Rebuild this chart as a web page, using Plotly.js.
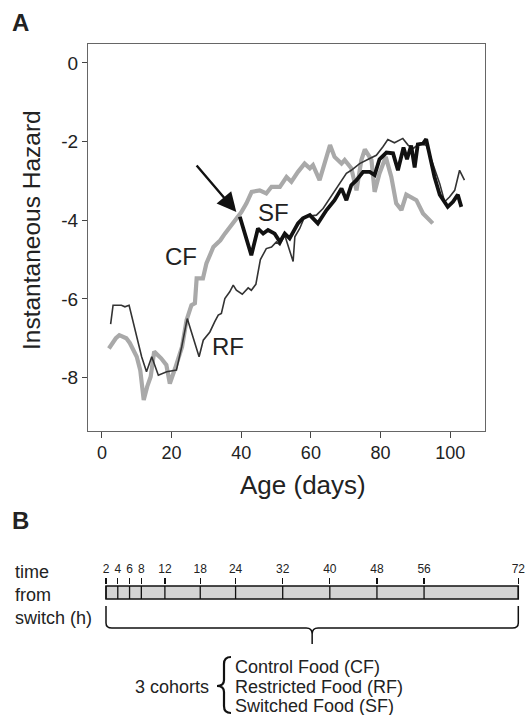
<!DOCTYPE html>
<html><head><meta charset="utf-8">
<script src="https://cdn.plot.ly/plotly-3.0.1.min.js"></script>
<style>html,body{margin:0;padding:0;background:#fff}</style>
</head><body><div id="chart" style="width:528px;height:715px"></div>
<script>
// ---- Panel A data ----
const cfDays = [2,4,5,7,8,10,11,12,13,14,15,17,18.5,19.5,21,23,24.3,25.7,26.7,27.2,29,30,32,34,35.3,37.2,38.6,40,41.5,43,45.3,47.2,48.7,51.1,53,54.4,56.3,58.2,59.7,60.6,62.5,64.5,65.5,66.8,68.8,69.7,71.6,73.1,74.5,75.5,77.4,78.3,79.7,81.5,83.1,84.5,86,87.4,90.3,92.2,95];
const cfVals = [-7.26,-7.0,-6.92,-7.0,-7.12,-7.47,-7.81,-8.57,-8.23,-7.98,-7.34,-7.51,-7.68,-8.15,-7.77,-7.22,-6.54,-6.16,-6.11,-5.48,-5.48,-5.10,-4.68,-4.51,-4.34,-4.12,-3.96,-3.8,-3.57,-3.28,-3.24,-3.32,-3.15,-3.15,-2.9,-3.02,-2.77,-2.56,-2.68,-2.60,-2.98,-2.43,-2.09,-2.39,-2.56,-2.47,-2.68,-3.24,-2.47,-2.2,-2.47,-3.28,-2.81,-2.39,-2.90,-3.57,-3.74,-3.35,-3.49,-3.83,-4.08];
const rfDays = [2.5,3.2,5.6,6.6,7.8,9.5,11.4,12.8,14.3,16.2,18.6,21.4,22.9,24.5,26.2,27.9,29.1,31,32.4,33.4,34.3,35.3,36.7,37.7,38.6,40.3,42,42.9,44.2,45.5,47.2,48.7,50.1,51.1,52.5,53.4,54.9,55.4,56.8,58.2,59.7,61.6,63.5,65.4,67.8,70.2,71.6,74,76.9,78.8,80.7,82.1,84,86.4,87.9,89.3,91.2,93.1,95,97,98.4,99.8,101.3,102.7,104.1];
const rfVals = [-6.64,-6.16,-6.16,-6.2,-6.16,-6.79,-7.47,-7.85,-7.47,-7.94,-7.85,-7.81,-7.22,-6.5,-6.96,-7.47,-7.05,-6.84,-6.58,-6.41,-6.37,-5.99,-5.82,-5.65,-5.78,-5.88,-5.72,-5.78,-5.63,-5.0,-4.72,-4.68,-4.55,-4.63,-4.38,-4.63,-5.05,-4.42,-4.21,-3.91,-3.9,-3.87,-3.7,-3.45,-3.11,-2.81,-2.73,-2.56,-2.43,-2.35,-2.13,-1.95,-2.03,-1.92,-2.09,-2.18,-2.05,-2.09,-2.56,-3.07,-3.53,-3.41,-3.24,-2.73,-2.98];
const sfDays = [39.6,42.9,44.8,46.3,47.7,49.6,51.1,52.5,53.9,55.4,56.3,57.7,59.7,62,64.5,66.8,68.8,70.2,71.6,73.1,75,76.9,78.3,79.7,81.7,83.6,85,86.6,87.6,88.8,89.8,90.7,92.2,93.1,94.1,95.5,97,98.4,99.3,100.8,102.2,103.2];
const sfVals = [-3.91,-4.89,-4.21,-4.34,-4.25,-4.34,-4.55,-4.34,-4.46,-4.25,-4.08,-3.95,-3.87,-4.08,-3.74,-3.49,-3.19,-3.49,-3.11,-2.98,-2.77,-2.77,-2.85,-2.45,-2.28,-2.3,-2.73,-2.15,-2.45,-2.1,-2.66,-2.07,-2.05,-1.94,-2.39,-2.9,-3.35,-3.55,-3.66,-3.53,-3.35,-3.66];
const xTicks = [0,20,40,60,80,100];
const yTicks = [0,-2,-4,-6,-8];
const seriesLabels = ['CF','RF','SF'];

// ---- Panel B data ----
const hours = [2,4,6,8,12,18,24,32,40,48,56,72];
const hourLabels = ['2','4','6','8','12','18','24','32','40','48','56','72'];
const cohortLabels = ['Control Food (CF)','Restricted Food (RF)','Switched Food (SF)'];
const timeLabel = ['time','from','switch (h)'];

// ---- layout geometry (pixels -> paper) ----
const W=528,H=715,ML=88,MR=3,MT=44,MB=100;
const PW=W-ML-MR, PH=H-MT-MB;
const px = x => (x-ML)/PW;
const py = y => (MT+PH-y)/PH;
const FONT = 'Liberation Sans, Arial, sans-serif';
const TXT = '#222';

// division lines in the bar, built from hours
const divX=[], divY=[];
hours.forEach(h=>{divX.push(h,h,null);divY.push(0,1,null);});

const traces = [
  {x:cfDays,y:cfVals,mode:'lines',name:'CF',line:{color:'#a9a9a9',width:4.2},hoverinfo:'skip'},
  {x:rfDays,y:rfVals,mode:'lines',name:'RF',line:{color:'#333',width:1.6},hoverinfo:'skip'},
  {x:sfDays,y:sfVals,mode:'lines',name:'SF',line:{color:'#111',width:3.8},hoverinfo:'skip'},
  {x:divX,y:divY,xaxis:'x2',yaxis:'y2',mode:'lines',line:{color:'#111',width:1.3},hoverinfo:'skip'}
];

const h0=hours[0], h1=hours[hours.length-1], hm=(h0+h1)/2;
const yT=py(606), yL=py(628), yTip=py(644), yC=py(623), yM=py(634);
const bracePath = `M ${h0},${yT} L ${h0},${yC} Q ${h0},${yL} ${h0+1},${yL} L ${hm-1},${yL} Q ${hm},${yL} ${hm},${yM} L ${hm},${yTip} M ${hm},${yM} Q ${hm},${yL} ${hm+1},${yL} L ${h1-1},${yL} Q ${h1},${yL} ${h1},${yC} L ${h1},${yT}`;
const cb = `M ${px(231)},${py(657)} Q ${px(224)},${py(657)} ${px(224)},${py(664)} L ${px(224)},${py(680)} Q ${px(224)},${py(686)} ${px(217)},${py(686)} Q ${px(224)},${py(686)} ${px(224)},${py(692)} L ${px(224)},${py(706)} Q ${px(224)},${py(713)} ${px(231)},${py(713)}`;

function pText(text,x,y,size,xa,extra){
  return Object.assign({text:text,xref:'paper',yref:'paper',x:px(x),y:py(y),xanchor:xa||'center',yanchor:'middle',
    showarrow:false,font:{size:size,color:TXT}},extra||{});
}
const annotations = [
  pText('<b>A</b>',20,22,24,'center'),
  pText('<b>B</b>',20,520,24,'center'),
  pText('Instantaneous Hazard',31,230,24.5,'center',{textangle:-90}),
  pText('Age (days)',302.5,485,26,'center'),
  {text:seriesLabels[0],x:22.7,y:-4.91,xanchor:'center',yanchor:'middle',showarrow:false,font:{size:24,color:TXT}},
  {text:seriesLabels[1],x:36.1,y:-7.2,xanchor:'center',yanchor:'middle',showarrow:false,font:{size:24,color:TXT}},
  {text:seriesLabels[2],x:49.3,y:-3.8,xanchor:'center',yanchor:'middle',showarrow:false,font:{size:24,color:TXT}},
  {text:'',x:38.6,y:-3.79,ax:-41,ay:-48,showarrow:true,arrowhead:2,arrowsize:1.6,arrowwidth:2.4,arrowcolor:'#111'},
  pText(timeLabel[0],13,572,18,'left'),
  pText(timeLabel[1],13,595,18,'left'),
  pText(timeLabel[2],13,618,18,'left'),
  pText('3 cohorts',211,687,18,'right'),
  pText(cohortLabels[0],233,667,18,'left'),
  pText(cohortLabels[1],233,687,18,'left'),
  pText(cohortLabels[2],233,706,18,'left')
];

const layout = {
  width:W,height:H,margin:{l:ML,r:MR,t:MT,b:MB,pad:0},
  paper_bgcolor:'#fff',plot_bgcolor:'#fff',showlegend:false,
  font:{family:FONT,color:TXT},
  xaxis:{domain:[0,px(485)],range:[-4,110],tickvals:xTicks,ticks:'outside',ticklen:6,tickcolor:'#444',
         showline:true,mirror:true,linecolor:'#666',linewidth:1,showgrid:false,zeroline:false,
         tickfont:{size:18,color:TXT},fixedrange:true},
  yaxis:{domain:[py(430.7),1],range:[-9.35,0.48],tickvals:yTicks,ticktext:yTicks.map(String),ticks:'outside',ticklen:5,tickcolor:'#444',
         showline:true,mirror:true,linecolor:'#666',linewidth:1,showgrid:false,zeroline:false,
         tickfont:{size:19,color:TXT},fixedrange:true},
  xaxis2:{anchor:'y2',domain:[px(101.29),px(524.19)],range:[1.2,73],side:'top',tickvals:hours,ticktext:hourLabels,
          ticks:'outside',ticklen:6,tickcolor:'#111',tickwidth:1.3,showline:false,showgrid:false,zeroline:false,
          tickfont:{size:12,color:TXT},fixedrange:true},
  yaxis2:{anchor:'x2',domain:[py(600.3),py(584.7)],range:[-0.1,1.1],visible:false,fixedrange:true},
  shapes:[
    {type:'rect',xref:'x2',yref:'y2',x0:h0,x1:h1,y0:0,y1:1,fillcolor:'#d4d4d4',line:{color:'#111',width:1.5},layer:'below'},
    {type:'path',xref:'x2',yref:'paper',path:bracePath,line:{color:'#111',width:1.5}},
    {type:'path',xref:'paper',yref:'paper',path:cb,line:{color:'#111',width:2.2}}
  ],
  annotations:annotations
};
Plotly.newPlot('chart',traces,layout,{staticPlot:true,displayModeBar:false});
</script></body></html>
